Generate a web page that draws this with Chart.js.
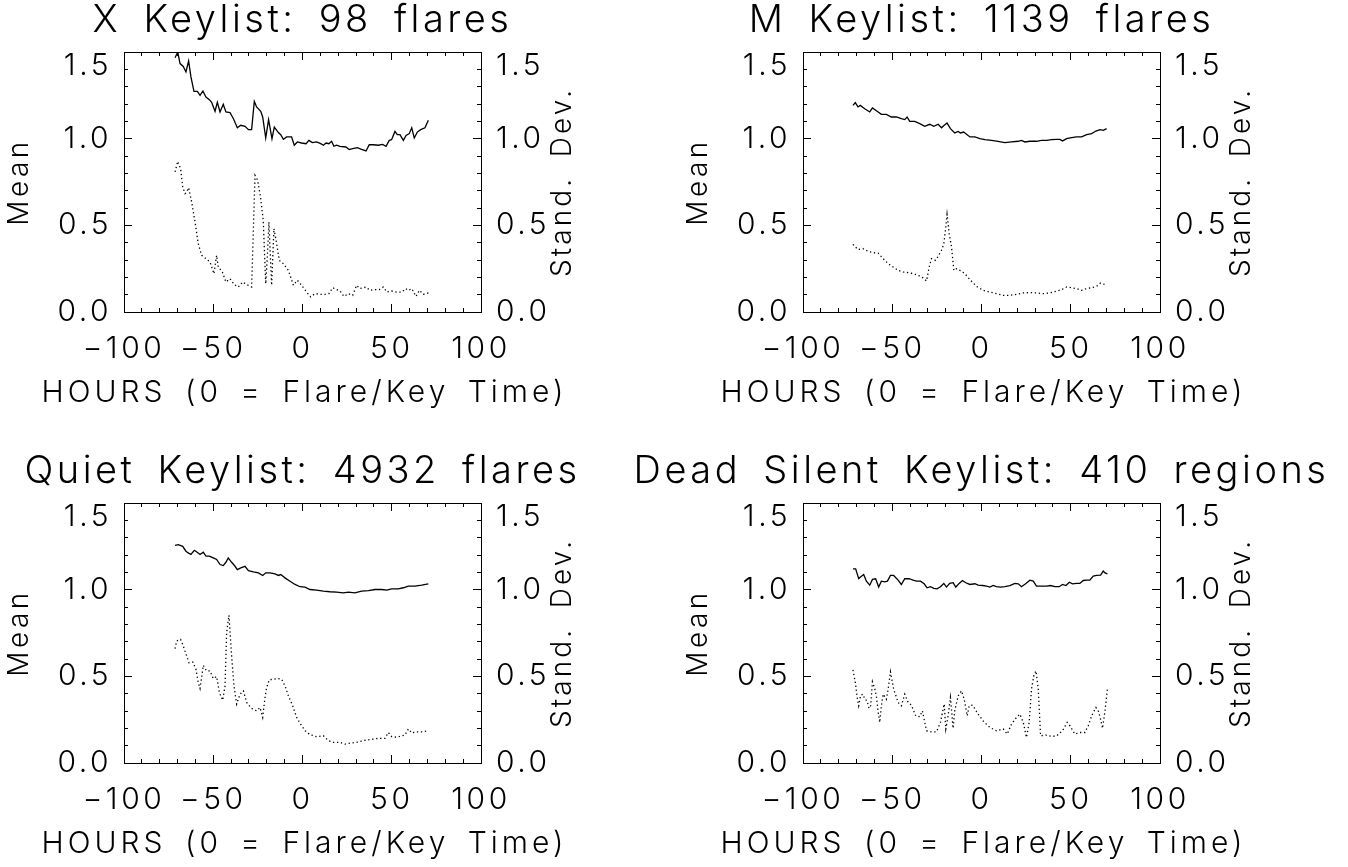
<!DOCTYPE html>
<html>
<head>
<meta charset="utf-8">
<script src="https://cdn.jsdelivr.net/npm/chart.js@4.4.1/dist/chart.umd.min.js"></script>
<style>
  html, body { margin: 0; padding: 0; background: #fff; overflow: hidden; }
  body { width: 1348px; height: 867px; position: relative; }
  canvas { position: absolute; }
</style>
</head>
<body>
<canvas id="c1" width="757" height="433" style="left:-76px; top:0px"></canvas>
<canvas id="c2" width="757" height="433" style="left:603px; top:0px"></canvas>
<canvas id="c3" width="757" height="433" style="left:-76px; top:451px"></canvas>
<canvas id="c4" width="757" height="433" style="left:603px; top:451px"></canvas>
<script>
// X keylist
const xMeanHrs = [-71.4,-69.9,-68.6,-66.8,-65.3,-63.8,-62.5,-60.8,-58.9,-57.4,-55.8,-54.1,-52.2,-50.9,-49.0,-47.7,-46.2,-44.4,-42.9,-40.6,-38.7,-36.5,-34.6,-32.2,-30.3,-28.5,-27.0,-25.7,-23.4,-22.3,-20.6,-19.0,-17.1,-15.8,-13.5,-12.2,-10.7,-8.9,-6.1,-4.6,-2.9,-0.5,2.0,3.6,5.5,7.9,10.2,11.7,13.2,14.8,16.3,17.6,19.1,21.0,24.3,26.2,28.1,30.7,33.1,35.6,37.4,39.7,42.5,44.9,46.8,48.6,49.9,51.8,53.1,54.6,56.5,58.0,59.8,61.2,62.6,64.3,66.2,68.6,70.5];
const xMean = [1.467,1.50,1.433,1.417,1.385,1.448,1.356,1.273,1.273,1.25,1.275,1.24,1.225,1.21,1.158,1.21,1.154,1.198,1.154,1.15,1.115,1.063,1.077,1.071,1.052,1.052,1.215,1.183,1.158,1.125,1.004,1.11,1.0,1.067,1.035,1.023,0.996,1.01,1.01,0.962,0.981,0.975,0.971,0.99,0.977,0.981,0.971,0.962,0.975,0.971,0.985,0.956,0.962,0.956,0.952,0.937,0.942,0.948,0.938,0.929,0.965,0.965,0.962,0.967,0.956,0.99,0.994,1.042,1.023,1.023,0.99,1.019,1.029,1.063,1.004,1.038,1.052,1.063,1.106];
const xSdHrs = [-71.4,-69.9,-68.3,-67.1,-65.8,-64.9,-63.8,-62.1,-60.2,-58.4,-56.5,-54.1,-51.8,-49.6,-48.1,-47.2,-44.9,-42.9,-40.6,-38.4,-36.0,-33.5,-31.3,-28.5,-26.6,-25.1,-23.4,-22.0,-20.6,-19.7,-18.8,-17.3,-16.0,-14.8,-13.0,-10.7,-7.9,-5.1,-2.9,-0.5,2.3,4.6,7.0,9.8,12.6,14.8,16.9,19.1,21.0,23.2,25.7,28.1,30.3,32.2,35.6,37.8,40.2,43.0,45.3,47.2,49.9,52.8,55.6,57.8,59.3,61.2,63.6,65.5,67.7,70.5];
const xSd = [0.808,0.869,0.827,0.721,0.683,0.692,0.717,0.635,0.519,0.394,0.327,0.308,0.288,0.221,0.327,0.26,0.231,0.173,0.192,0.16,0.144,0.173,0.158,0.144,0.788,0.76,0.654,0.529,0.163,0.317,0.519,0.154,0.481,0.413,0.298,0.279,0.24,0.154,0.183,0.154,0.115,0.087,0.106,0.102,0.102,0.106,0.14,0.129,0.121,0.09,0.106,0.096,0.154,0.135,0.144,0.125,0.129,0.129,0.144,0.115,0.121,0.115,0.115,0.135,0.125,0.135,0.09,0.125,0.102,0.11];

// M keylist
const mMeanHrs = [-72.0,-70.7,-69.2,-67.9,-65.4,-62.6,-61.1,-58.5,-56.1,-53.3,-50.5,-47.7,-44.9,-43.0,-41.7,-40.2,-37.4,-34.6,-31.8,-29.0,-26.7,-24.3,-22.4,-20.9,-19.3,-17.4,-15.0,-13.1,-11.8,-10.0,-6.5,-3.7,-0.9,1.9,5.6,9.3,13.1,16.8,20.6,22.4,24.3,27.1,30.8,33.6,36.4,39.3,42.1,43.9,45.4,47.7,50.5,53.3,56.1,58.9,61.7,64.1,66.4,68.2,70.1];
const mMean = [1.192,1.208,1.183,1.192,1.173,1.154,1.177,1.158,1.14,1.14,1.125,1.125,1.115,1.11,1.125,1.1,1.1,1.087,1.071,1.083,1.071,1.083,1.063,1.077,1.09,1.058,1.033,1.042,1.033,1.038,1.01,1.01,1.0,0.994,0.99,0.985,0.977,0.981,0.985,0.99,0.981,0.985,0.985,0.99,0.99,0.994,0.996,0.996,0.987,1.0,1.006,1.01,1.01,1.023,1.029,1.044,1.052,1.048,1.058];
const mSdHrs = [-72.0,-69.2,-66.4,-63.6,-60.7,-57.9,-55.1,-52.3,-49.5,-46.7,-43.9,-41.1,-38.3,-35.5,-32.7,-30.8,-29.3,-28.0,-25.8,-24.3,-22.4,-21.1,-20.0,-19.3,-18.1,-16.8,-15.5,-14.0,-12.1,-9.3,-6.5,-2.8,0.9,4.7,8.4,12.1,15.9,19.6,23.4,27.1,30.8,34.6,38.3,42.1,44.9,47.7,50.5,53.3,56.1,58.9,61.7,64.5,66.7,69.2];
const mSd = [0.39,0.36,0.365,0.35,0.342,0.34,0.308,0.279,0.26,0.24,0.231,0.227,0.221,0.212,0.196,0.179,0.26,0.308,0.298,0.321,0.356,0.394,0.49,0.563,0.452,0.375,0.24,0.25,0.24,0.221,0.187,0.148,0.125,0.115,0.106,0.096,0.096,0.102,0.11,0.112,0.11,0.106,0.11,0.121,0.129,0.144,0.14,0.135,0.125,0.135,0.14,0.148,0.167,0.158];

// Quiet keylist
const qMeanHrs = [-71.4,-69.6,-67.1,-65.3,-64.0,-62.5,-60.6,-59.0,-57.4,-55.6,-54.1,-52.2,-50.0,-48.1,-46.2,-44.4,-42.9,-41.6,-39.7,-37.8,-36.5,-34.6,-32.2,-30.3,-27.5,-24.7,-22.3,-20.6,-18.2,-15.4,-13.5,-12.2,-9.8,-7.0,-4.2,-1.4,1.4,4.2,7.9,11.7,15.4,19.1,22.9,25.7,29.4,33.1,36.9,40.6,44.3,47.2,49.9,53.7,56.5,59.3,63.0,66.8,70.5];
const qMean = [1.256,1.26,1.25,1.222,1.212,1.203,1.227,1.216,1.203,1.216,1.193,1.193,1.183,1.174,1.145,1.139,1.158,1.183,1.158,1.135,1.116,1.126,1.135,1.11,1.103,1.097,1.082,1.097,1.097,1.091,1.082,1.087,1.068,1.049,1.03,1.017,1.015,1.001,0.997,0.992,0.988,0.986,0.982,0.986,0.982,0.992,0.995,1.001,1.001,0.997,1.005,1.005,1.011,1.02,1.02,1.026,1.034];
const qSdHrs = [-71.4,-70.5,-68.3,-66.8,-64.9,-63.6,-61.5,-59.7,-58.4,-57.4,-56.5,-55.6,-53.7,-51.8,-50.0,-48.1,-46.6,-44.7,-43.4,-42.5,-41.2,-39.7,-38.4,-36.9,-35.0,-33.1,-31.3,-28.5,-25.7,-23.8,-22.3,-21.0,-20.1,-18.6,-16.3,-13.5,-11.7,-9.8,-7.9,-5.5,-3.3,-0.5,2.3,5.1,7.9,11.7,14.5,17.3,21.0,23.8,26.6,30.3,34.1,36.9,39.7,42.5,46.2,48.1,49.9,52.8,55.6,57.4,59.3,61.2,64.0,67.7,70.5];
const qSd = [0.66,0.704,0.713,0.675,0.618,0.579,0.583,0.541,0.464,0.43,0.493,0.564,0.531,0.531,0.487,0.499,0.407,0.362,0.445,0.752,0.852,0.618,0.445,0.34,0.397,0.416,0.349,0.315,0.301,0.32,0.263,0.378,0.435,0.48,0.483,0.487,0.483,0.445,0.387,0.33,0.263,0.215,0.176,0.161,0.152,0.157,0.129,0.119,0.119,0.109,0.115,0.119,0.129,0.134,0.138,0.142,0.142,0.176,0.153,0.148,0.157,0.161,0.196,0.173,0.18,0.18,0.186];

// Dead silent keylist
const dMeanHrs = [-72.0,-70.5,-68.8,-67.3,-66.0,-64.5,-62.6,-61.1,-59.3,-57.6,-56.1,-54.2,-52.7,-51.0,-49.2,-46.7,-44.9,-43.0,-40.6,-38.3,-36.4,-34.2,-32.1,-30.5,-28.6,-26.7,-24.9,-23.0,-21.1,-19.6,-17.8,-15.9,-14.4,-12.5,-10.7,-8.8,-6.5,-3.7,-1.9,0.6,2.8,4.7,6.5,8.4,10.7,13.1,15.9,18.7,20.6,22.4,24.9,27.1,29.0,30.8,33.1,36.5,38.7,41.1,43.5,45.4,47.3,49.2,51.0,53.3,55.1,57.0,58.9,60.7,62.6,64.5,66.7,68.2,69.2,70.5];
const dMean = [1.12,1.12,1.064,1.078,1.087,1.049,1.026,1.059,1.063,1.015,1.049,1.045,1.049,1.082,1.082,1.055,1.03,1.063,1.063,1.055,1.049,1.049,1.034,1.011,1.017,1.007,1.005,1.017,1.036,1.015,1.036,1.04,1.015,1.036,1.053,1.04,1.03,1.034,1.026,1.024,1.02,1.015,1.024,1.017,1.015,1.017,1.024,1.036,1.034,1.017,1.036,1.055,1.049,1.02,1.02,1.02,1.024,1.017,1.017,1.03,1.024,1.043,1.034,1.036,1.036,1.053,1.055,1.055,1.078,1.082,1.084,1.107,1.097,1.091];
const dSdHrs = [-72.0,-70.7,-69.5,-68.8,-67.7,-66.4,-65.4,-64.1,-63.0,-62.1,-61.1,-59.8,-58.9,-57.9,-57.0,-56.1,-55.1,-53.3,-52.3,-51.0,-49.2,-46.7,-44.9,-43.0,-41.1,-39.3,-36.8,-34.6,-33.1,-30.8,-28.0,-25.2,-23.0,-20.9,-20.0,-18.7,-17.4,-15.9,-15.0,-13.1,-11.2,-9.7,-8.0,-6.9,-5.0,-1.9,1.3,4.7,8.4,12.2,14.4,16.8,19.6,21.5,23.4,25.2,26.7,28.0,29.3,30.5,31.8,33.1,36.1,39.3,42.1,45.4,48.0,49.5,52.3,55.1,57.9,59.8,61.7,64.1,65.4,66.7,67.8,69.2,70.5];
const dSd = [0.537,0.464,0.368,0.33,0.391,0.397,0.368,0.359,0.315,0.33,0.468,0.428,0.387,0.295,0.234,0.33,0.397,0.368,0.426,0.526,0.426,0.349,0.33,0.397,0.349,0.334,0.272,0.267,0.301,0.186,0.18,0.18,0.234,0.34,0.196,0.272,0.378,0.2,0.301,0.387,0.416,0.368,0.272,0.33,0.334,0.282,0.238,0.205,0.186,0.196,0.167,0.224,0.263,0.282,0.234,0.148,0.234,0.426,0.503,0.531,0.426,0.157,0.161,0.153,0.157,0.186,0.234,0.215,0.167,0.176,0.176,0.215,0.272,0.32,0.301,0.253,0.2,0.301,0.426];

const xTicks = [-100, -50, 0, 50, 100];
const yTicks = [0.0, 0.5, 1.0, 1.5];

const FAMILY = "Inter, Lato, 'DejaVu Sans', sans-serif";
const WEIGHT = 300;
const tickFont = { family: FAMILY, size: 30, weight: WEIGHT, lineHeight: 0.9 };
const labelFont = { family: FAMILY, size: 28, weight: WEIGHT, lineHeight: 1 };
const titleFont = { family: FAMILY, size: 38, weight: WEIGHT, lineHeight: 1 };

Chart.defaults.color = '#000';

const pts = (hrs, vals) => hrs.map((h, i) => ({ x: h, y: vals[i] }));

function setSpacing(ctx, letter, word) {
  ctx.letterSpacing = letter + 'px';
  ctx.wordSpacing = word + 'px';
}

// wide IDL-like glyph spacing for everything chart.js draws
const spacingPlugin = {
  id: 'spacing',
  beforeUpdate(chart) { setSpacing(chart.ctx, 3.5, 8); },
  beforeDraw(chart) { setSpacing(chart.ctx, 3.5, 8); }
};

// x title and right-hand y title (which reads bottom-to-top like "Mean")
const axisTitles = {
  id: 'axisTitles',
  afterDraw(chart) {
    const { ctx, chartArea } = chart;
    const cx = (chartArea.left + chartArea.right) / 2;
    const cy = (chartArea.top + chartArea.bottom) / 2;
    ctx.save();
    ctx.fillStyle = '#000';
    ctx.textAlign = 'center';
    ctx.textBaseline = 'middle';

    ctx.font = `${WEIGHT} 30px ${FAMILY}`;
    setSpacing(ctx, 4, 6);
    ctx.fillText('HOURS (0 = Flare/Key Time)', cx + 2, chartArea.bottom + 81);

    ctx.font = `${WEIGHT} ${labelFont.size}px ${FAMILY}`;
    setSpacing(ctx, 3, 8);
    ctx.translate(chartArea.right + 82, cy);
    ctx.rotate(-Math.PI / 2);
    ctx.fillText('Stand. Dev.', 0, 0);
    ctx.restore();
  }
};

const minorGrid = { drawOnChartArea: false, tickLength: -4, color: '#000', lineWidth: 1 };
const majorGrid = { drawOnChartArea: false, tickLength: -8, color: '#000', lineWidth: 1 };
const borderOpts = { display: true, color: '#000', width: 1 };

function xLabel(v) {
  const r = Math.round(v);
  if (!xTicks.includes(r)) return '';
  return r < 0 ? '\u2212' + (-r) : String(r);
}

function yLabel(v) {
  const r = Math.round(v * 10) / 10;
  const t = yTicks.find(t => Math.abs(t - r) < 1e-6);
  if (t === undefined) return '';
  if (t === 1.5) return ['', '1.5'];
  return t.toFixed(1);
}

// unlabelled axis that only adds the longer major tick marks on one side of the box
function majorAxis(position, min, max, step) {
  return {
    type: 'linear', position, min, max, weight: -1,
    ticks: { stepSize: step, display: false },
    grid: majorGrid, border: { display: false },
    afterFit: s => { s.width = position === 'left' || position === 'right' ? 0 : s.width; if (position === 'top' || position === 'bottom') s.height = 0; }
  };
}

function makePanel(id, title, meanPts, sdPts) {
  new Chart(document.getElementById(id), {
    type: 'line',
    data: {
      datasets: [
        { data: meanPts, borderColor: '#000', borderWidth: 1.3, pointRadius: 0, tension: 0 },
        { data: sdPts, borderColor: '#000', borderWidth: 1.3, borderDash: [1.3, 2.7], pointRadius: 0, tension: 0 }
      ]
    },
    options: {
      responsive: false,
      animation: false,
      devicePixelRatio: 1,
      layout: { padding: 0 },
      plugins: {
        legend: { display: false },
        tooltip: { enabled: false },
        title: { display: true, text: title, font: titleFont, color: '#000', padding: { top: 2, bottom: 12 } }
      },
      scales: {
        x: {
          type: 'linear', position: 'bottom', min: -100, max: 100, weight: 1,
          ticks: { stepSize: 10, autoSkip: false, maxRotation: 0, padding: 27, font: tickFont, color: '#000', callback: xLabel },
          grid: minorGrid, border: borderOpts,
          afterFit: s => { s.height = 121; }
        },
        xTop: {
          type: 'linear', position: 'top', min: -100, max: 100, weight: 1,
          ticks: { stepSize: 10, display: false },
          grid: minorGrid, border: borderOpts,
          afterFit: s => { s.height = 0; }
        },
        y: {
          type: 'linear', position: 'left', min: 0, max: 1.5, weight: 1,
          ticks: { stepSize: 0.1, autoSkip: false, padding: 16, font: tickFont, color: '#000', callback: yLabel },
          grid: minorGrid, border: borderOpts,
          title: { display: true, text: 'Mean', font: labelFont, color: '#000', padding: { top: 82, bottom: 0 } },
          afterFit: s => { s.width = 200; }
        },
        yR: {
          type: 'linear', position: 'right', min: 0, max: 1.5, weight: 1,
          ticks: { stepSize: 0.1, autoSkip: false, padding: 19, font: tickFont, color: '#000', callback: yLabel },
          grid: minorGrid, border: borderOpts,
          afterFit: s => { s.width = 200; }
        },
        xMajB: majorAxis('bottom', -100, 100, 50),
        xMajT: majorAxis('top', -100, 100, 50),
        yMajL: majorAxis('left', 0, 1.5, 0.5),
        yMajR: majorAxis('right', 0, 1.5, 0.5)
      }
    },
    plugins: [spacingPlugin, axisTitles]
  });
}

makePanel('c1', 'X Keylist: 98 flares', pts(xMeanHrs, xMean), pts(xSdHrs, xSd));
makePanel('c2', 'M Keylist: 1139 flares', pts(mMeanHrs, mMean), pts(mSdHrs, mSd));
makePanel('c3', 'Quiet Keylist: 4932 flares', pts(qMeanHrs, qMean), pts(qSdHrs, qSd));
makePanel('c4', 'Dead Silent Keylist: 410 regions', pts(dMeanHrs, dMean), pts(dSdHrs, dSd));
</script>
</body>
</html>
